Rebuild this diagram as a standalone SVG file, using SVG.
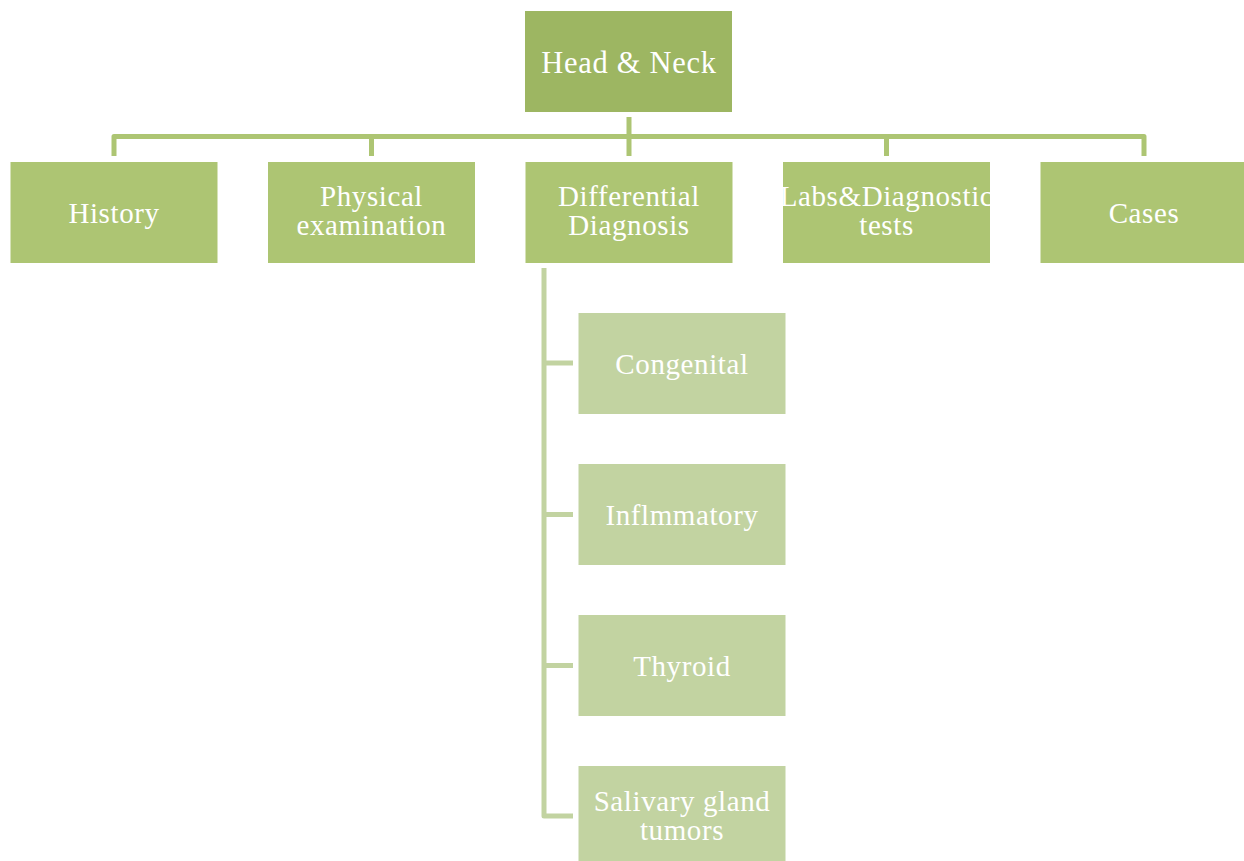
<svg xmlns="http://www.w3.org/2000/svg" width="1244" height="861" viewBox="0 0 1244 861">
<style>
.t{font-family:"Liberation Serif","Times New Roman",serif;font-size:29px;fill:#ffffff;text-anchor:middle;letter-spacing:0.6px}
.big{font-size:30.5px;letter-spacing:0.7px}
.top{fill:#9DB662}
.l1{fill:#ADC573}
.l2{fill:#C2D3A1}
.c1{fill:none;stroke:#ADC573;stroke-width:5;stroke-linejoin:round}
.c2{fill:none;stroke:#C2D3A1;stroke-width:5;stroke-linejoin:round}
</style>
<defs>
<clipPath id="clipLabs"><rect x="783" y="162" width="207" height="101"/></clipPath>
</defs>
<rect width="1244" height="861" fill="#ffffff"/>
<g id="connectors">
<path class="c1" d="M629,117 V156"/>
<path class="c1" d="M114,156 V136.5 H1144 V156"/>
<path class="c1" d="M371.5,136.5 V156"/>
<path class="c1" d="M886.5,136.5 V156"/>
<path class="c2" d="M544,268 V816 H573"/>
<path class="c2" d="M544,363 H573"/>
<path class="c2" d="M544,514.5 H573"/>
<path class="c2" d="M544,665.5 H573"/>
</g>
<g id="head-neck"><rect class="top" x="525" y="11" width="207" height="101"/><text class="t big" x="629" y="73">Head &amp; Neck</text></g>
<g id="history"><rect class="l1" x="10.5" y="162" width="207" height="101"/><text class="t" x="114" y="223">History</text></g>
<g id="physical"><rect class="l1" x="268" y="162" width="207" height="101"/><text class="t" x="371.5" y="206">Physical</text><text class="t" x="371.5" y="235">examination</text></g>
<g id="differential"><rect class="l1" x="525.5" y="162" width="207" height="101"/><text class="t" x="629" y="206">Differential</text><text class="t" x="629" y="235">Diagnosis</text></g>
<g id="labs"><rect class="l1" x="783" y="162" width="207" height="101"/><g clip-path="url(#clipLabs)"><text class="t" x="886.5" y="206">Labs&amp;Diagnostic</text><text class="t" x="886.5" y="235">tests</text></g></g>
<g id="cases"><rect class="l1" x="1040.5" y="162" width="207" height="101"/><text class="t" x="1144" y="223">Cases</text></g>
<g id="congenital"><rect class="l2" x="578.5" y="313" width="207" height="101"/><text class="t" x="682" y="374">Congenital</text></g>
<g id="inflammatory"><rect class="l2" x="578.5" y="464" width="207" height="101"/><text class="t" x="682" y="525">Inflmmatory</text></g>
<g id="thyroid"><rect class="l2" x="578.5" y="615" width="207" height="101"/><text class="t" x="682" y="676">Thyroid</text></g>
<g id="salivary"><rect class="l2" x="578.5" y="766" width="207" height="101"/><text class="t" x="682" y="811">Salivary gland</text><text class="t" x="682" y="840">tumors</text></g>
</svg>
